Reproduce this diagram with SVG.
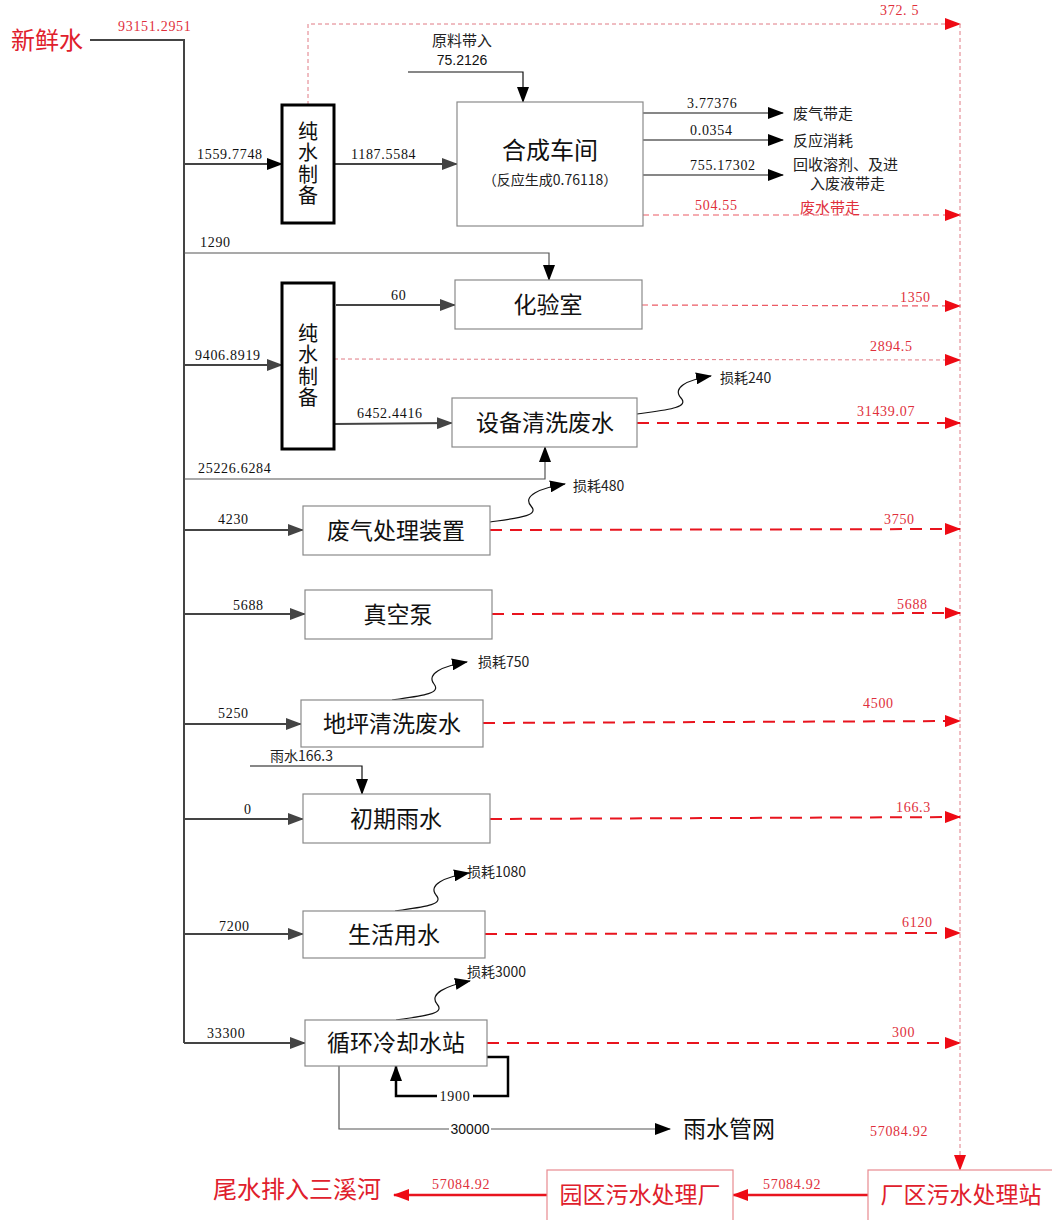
<svg xmlns="http://www.w3.org/2000/svg" width="1052" height="1220" viewBox="0 0 1052 1220">
<style>
.box{fill:#fff;stroke:#8a8a8a;stroke-width:1.2}
.pbox{fill:#fff;stroke:#000;stroke-width:3}
.rbox{fill:#fff;stroke:#e88a90;stroke-width:1.2}
.t{font-family:"Noto Sans CJK SC","Liberation Sans",sans-serif;font-size:23px;fill:#111;text-anchor:middle}
.v{font-family:"Noto Sans CJK SC","Liberation Sans",sans-serif;font-size:20px;fill:#111;text-anchor:middle;writing-mode:vertical-rl;letter-spacing:1.5px}
.rt{font-family:"Noto Sans CJK SC","Liberation Sans",sans-serif;font-size:23px;fill:#e0202c;text-anchor:middle}
.n{font-family:"Liberation Serif","Noto Sans CJK SC",serif;font-size:14px;letter-spacing:0.7px;fill:#111}
.rn{font-family:"Liberation Serif","Noto Sans CJK SC",serif;font-size:14px;letter-spacing:0.7px;fill:#e0303c}
.s{font-family:"Noto Sans CJK SC","Liberation Sans",sans-serif;font-size:14px;fill:#222}
.g{fill:none;stroke:#444;stroke-width:2}
.g1{fill:none;stroke:#555;stroke-width:1.2}
.k1{fill:none;stroke:#111;stroke-width:1.2}
.kk{fill:none;stroke:#000;stroke-width:2.5}
.rd{fill:none;stroke:#e8141e;stroke-width:2;stroke-dasharray:12 8}
.rm{fill:none;stroke:#ec5a64;stroke-width:1.2;stroke-dasharray:6 4}
.rs{fill:none;stroke:#e07a84;stroke-width:1;stroke-dasharray:4 3}
.rsol{fill:none;stroke:#e8141e;stroke-width:2.5}
</style>
<defs>
<marker id="ak" markerUnits="userSpaceOnUse" markerWidth="16" markerHeight="12" refX="15" refY="6" orient="auto"><path d="M0,0 L16,6 L0,12 z" fill="#000"/></marker>
<marker id="ag" markerUnits="userSpaceOnUse" markerWidth="16" markerHeight="12" refX="15" refY="6" orient="auto"><path d="M0,0 L16,6 L0,12 z" fill="#444"/></marker>
<marker id="ar" markerUnits="userSpaceOnUse" markerWidth="16" markerHeight="12" refX="15" refY="6" orient="auto"><path d="M0,0 L16,6 L0,12 z" fill="#ee0a14"/></marker>
</defs>
<rect width="1052" height="1220" fill="#fff"/>

<g id="connectors">
  <polyline class="g" points="90,40 184,40 184,1043"/>
  <text class="rn" x="118" y="31">93151.2951</text>
  <line class="g" x1="184" y1="164" x2="282" y2="164" stroke="#000" marker-end="url(#ak)"/>
  <text class="n" x="197" y="159">1559.7748</text>
  <line class="g" x1="334" y1="164" x2="457" y2="164" marker-end="url(#ag)"/>
  <text class="n" x="351" y="159">1187.5584</text>
  <polyline class="rs" points="308,105 308,24 960,24" marker-end="url(#ar)"/>
  <text class="rn" x="880" y="15">372. 5</text>
  <polyline class="rs" points="960,24 960,1170" marker-end="url(#ar)"/>
  <polyline class="k1" points="408,72 523,72 523,102" marker-end="url(#ak)"/>
  <text class="s" x="462" y="46" text-anchor="middle" style="font-size:15px">原料带入</text>
  <text class="n" x="462" y="65" text-anchor="middle" style="font-family:'Liberation Sans',sans-serif;letter-spacing:0">75.2126</text>
  <line class="k1" x1="643" y1="113" x2="783" y2="113" marker-end="url(#ak)"/>
  <text class="n" x="687" y="108">3.77376</text>
  <text class="s" x="793" y="119" style="font-size:15px">废气带走</text>
  <line class="k1" x1="643" y1="140" x2="783" y2="140" marker-end="url(#ak)"/>
  <text class="n" x="690" y="135">0.0354</text>
  <text class="s" x="793" y="146" style="font-size:15px">反应消耗</text>
  <line class="k1" x1="643" y1="175" x2="783" y2="175" marker-end="url(#ak)"/>
  <text class="n" x="690" y="170">755.17302</text>
  <text class="s" x="793" y="170" style="font-size:15px">回收溶剂、及进</text>
  <text class="s" x="810" y="189" style="font-size:15px">入废液带走</text>
  <line class="rm" x1="643" y1="215" x2="960" y2="215" marker-end="url(#ar)"/>
  <text class="rn" x="695" y="210">504.55</text>
  <text class="s" x="800" y="213" style="fill:#e0303c;font-size:15px">废水带走</text>
  <polyline class="g1" points="184,253 549,253 549,280" marker-end="url(#ak)"/>
  <text class="n" x="200" y="247">1290</text>
  <line class="g" x1="184" y1="365" x2="282" y2="365" marker-end="url(#ag)"/>
  <text class="n" x="195" y="360">9406.8919</text>
  <line class="g" x1="336" y1="305" x2="455" y2="305" marker-end="url(#ag)"/>
  <text class="n" x="391" y="300">60</text>
  <line class="rm" x1="642" y1="305" x2="960" y2="306" marker-end="url(#ar)"/>
  <text class="rn" x="900" y="302">1350</text>
  <line class="rs" x1="334" y1="359" x2="960" y2="360" marker-end="url(#ar)"/>
  <text class="rn" x="870" y="351">2894.5</text>
  <line class="g" x1="334" y1="424" x2="452" y2="423" marker-end="url(#ag)"/>
  <text class="n" x="357" y="418">6452.4416</text>
  <polyline class="g1" points="184,479 545,479 545,447" marker-end="url(#ak)"/>
  <text class="n" x="198" y="473">25226.6284</text>
  <path class="k1" d="M637,414 C665,410 690,408 681,398 C672,388 686,380 711,376" marker-end="url(#ak)"/>
  <text class="s" x="720" y="383">损耗240</text>
  <line class="rd" x1="637" y1="423" x2="960" y2="423" marker-end="url(#ar)"/>
  <text class="rn" x="857" y="416">31439.07</text>
  <line class="g" x1="184" y1="530" x2="303" y2="530" marker-end="url(#ag)"/>
  <text class="n" x="218" y="524">4230</text>
  <path class="k1" d="M490,522 C518,518 540,516 531,506 C522,496 540,488 565,484" marker-end="url(#ak)"/>
  <text class="s" x="573" y="491">损耗480</text>
  <line class="rd" x1="490" y1="530" x2="960" y2="529" marker-end="url(#ar)"/>
  <text class="rn" x="884" y="524">3750</text>
  <line class="g" x1="184" y1="614" x2="305" y2="614" marker-end="url(#ag)"/>
  <text class="n" x="233" y="610">5688</text>
  <line class="rd" x1="492" y1="614" x2="960" y2="613" marker-end="url(#ar)"/>
  <text class="rn" x="897" y="609">5688</text>
  <line class="g" x1="184" y1="724" x2="301" y2="724" marker-end="url(#ag)"/>
  <text class="n" x="218" y="718">5250</text>
  <path class="k1" d="M392,700 C420,696 442,694 434,684 C426,674 442,666 467,662" marker-end="url(#ak)"/>
  <text class="s" x="478" y="667">损耗750</text>
  <line class="rd" x1="483" y1="723" x2="960" y2="721" marker-end="url(#ar)"/>
  <text class="rn" x="863" y="708">4500</text>
  <polyline class="k1" points="250,766 362,766 362,794" marker-end="url(#ak)"/>
  <text class="s" x="270" y="761">雨水166.3</text>
  <line class="g" x1="184" y1="819" x2="303" y2="819" marker-end="url(#ag)"/>
  <text class="n" x="244" y="814">0</text>
  <line class="rd" x1="490" y1="819" x2="960" y2="817" marker-end="url(#ar)"/>
  <text class="rn" x="896" y="812">166.3</text>
  <line class="g" x1="184" y1="934" x2="303" y2="934" marker-end="url(#ag)"/>
  <text class="n" x="219" y="931">7200</text>
  <path class="k1" d="M395,911 C423,907 445,905 436,895 C428,885 444,877 469,873" marker-end="url(#ak)"/>
  <text class="s" x="467" y="877">损耗1080</text>
  <line class="rd" x1="485" y1="934" x2="960" y2="933" marker-end="url(#ar)"/>
  <text class="rn" x="902" y="927">6120</text>
  <line class="g" x1="184" y1="1043" x2="305" y2="1043" marker-end="url(#ag)"/>
  <text class="n" x="207" y="1038">33300</text>
  <path class="k1" d="M396,1020 C424,1016 446,1014 437,1004 C429,994 445,986 470,981" marker-end="url(#ak)"/>
  <text class="s" x="467" y="977">损耗3000</text>
  <line class="rd" x1="487" y1="1043" x2="960" y2="1043" marker-end="url(#ar)"/>
  <text class="rn" x="892" y="1037">300</text>
  <polyline class="kk" points="487,1057 508,1057 508,1096 396,1096 396,1066" marker-end="url(#ak)"/>
  <rect x="437" y="1088" width="36" height="15" fill="#fff"/>
  <text class="n" x="455" y="1101" text-anchor="middle">1900</text>
  <polyline class="g1" points="339,1066 339,1129 670,1129" marker-end="url(#ak)"/>
  <rect x="449" y="1122" width="42" height="15" fill="#fff"/>
  <text class="n" x="470" y="1134" text-anchor="middle" style="font-family:'Liberation Sans',sans-serif;letter-spacing:0">30000</text>
  <text class="t" x="729" y="1137" style="font-size:23px">雨水管网</text>
  <text class="rn" x="870" y="1136">57084.92</text>
  <line class="rsol" x1="868" y1="1195" x2="733" y2="1195" marker-end="url(#ar)"/>
  <text class="rn" x="763" y="1189">57084.92</text>
  <line class="rsol" x1="547" y1="1195" x2="394" y2="1195" marker-end="url(#ar)"/>
  <text class="rn" x="432" y="1189">57084.92</text>
  <text class="rt" x="297" y="1198" style="font-size:24px">尾水排入三溪河</text>
  <text class="rt" x="47" y="49" style="font-size:24px">新鲜水</text>
</g>

<g id="pure1">
  <rect class="pbox" x="282" y="105" width="52" height="118"/>
  <text class="v" x="308" y="164">纯水制备</text>
</g>
<g id="synthesis">
  <rect class="box" x="457" y="102" width="186" height="124"/>
  <text class="t" x="550" y="159" style="font-size:24px">合成车间</text>
  <text class="s" x="550" y="185" text-anchor="middle" style="font-size:14px">（反应生成0.76118）</text>
</g>
<g id="pure2">
  <rect class="pbox" x="282" y="283" width="52" height="166"/>
  <text class="v" x="308" y="366">纯水制备</text>
</g>
<g id="lab">
  <rect class="box" x="455" y="280" width="187" height="49"/>
  <text class="t" x="548" y="313">化验室</text>
</g>
<g id="equip">
  <rect class="box" x="452" y="398" width="185" height="49"/>
  <text class="t" x="545" y="431">设备清洗废水</text>
</g>
<g id="wastegas">
  <rect class="box" x="303" y="506" width="187" height="49"/>
  <text class="t" x="396" y="539">废气处理装置</text>
</g>
<g id="vacuum">
  <rect class="box" x="305" y="590" width="187" height="49"/>
  <text class="t" x="398" y="623">真空泵</text>
</g>
<g id="floor">
  <rect class="box" x="301" y="700" width="182" height="47"/>
  <text class="t" x="392" y="732">地坪清洗废水</text>
</g>
<g id="rain">
  <rect class="box" x="303" y="794" width="187" height="49"/>
  <text class="t" x="396" y="827">初期雨水</text>
</g>
<g id="domestic">
  <rect class="box" x="303" y="911" width="182" height="47"/>
  <text class="t" x="394" y="943">生活用水</text>
</g>
<g id="cooling">
  <rect class="box" x="305" y="1020" width="182" height="46"/>
  <text class="t" x="396" y="1051">循环冷却水站</text>
</g>
<g id="parkplant">
  <rect class="rbox" x="547" y="1170" width="186" height="52"/>
  <text class="rt" x="640" y="1203">园区污水处理厂</text>
</g>
<g id="factoryplant">
  <rect class="rbox" x="868" y="1170" width="186" height="52"/>
  <text class="rt" x="961" y="1203">厂区污水处理站</text>
</g>
</svg>
